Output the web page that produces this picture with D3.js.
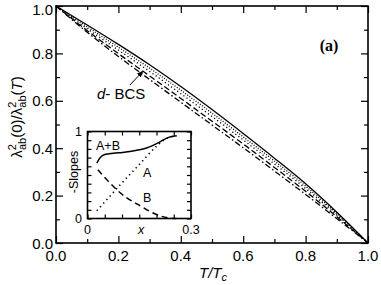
<!DOCTYPE html>
<html>
<head>
<meta charset="utf-8">
<script src="https://cdn.jsdelivr.net/npm/d3@7"></script>
<style>
body { margin: 0; background: #fff; }
svg { display: block; font-family: "Liberation Sans", Arial, sans-serif; }
</style>
</head>
<body>
<svg></svg>
<script>
// main panel: superfluid density vs reduced temperature
const tValues = [0, 0.1, 0.2, 0.3, 0.4, 0.5, 0.6, 0.7, 0.8, 0.9, 1.0];
const solidCurve = [1, 0.920, 0.838, 0.752, 0.660, 0.563, 0.462, 0.358, 0.250, 0.130, 0];
const dotCurve1 = [1, 0.912, 0.826, 0.738, 0.645, 0.548, 0.448, 0.346, 0.240, 0.124, 0];
const dotCurve2 = [1, 0.904, 0.814, 0.724, 0.630, 0.534, 0.435, 0.334, 0.230, 0.118, 0];
const dashCurve = [1, 0.896, 0.799, 0.705, 0.610, 0.514, 0.418, 0.319, 0.218, 0.111, 0];
const dashDotCurve = [1, 0.889, 0.787, 0.690, 0.594, 0.498, 0.402, 0.304, 0.205, 0.103, 0];
const xTicks = [0, 0.2, 0.4, 0.6, 0.8, 1.0];
const yTicks = [0, 0.2, 0.4, 0.6, 0.8, 1.0];

// inset: slopes vs doping
const slopeAB = [[0.027, 0.637], [0.037, 0.70], [0.05, 0.735], [0.075, 0.75], [0.1, 0.76], [0.123, 0.77], [0.15, 0.79], [0.171, 0.81], [0.19, 0.84], [0.21, 0.88], [0.233, 0.93], [0.258, 0.95]];
const slopeA = [[0.027, 0.09], [0.05, 0.19], [0.1, 0.41], [0.15, 0.62], [0.2, 0.83], [0.225, 0.91], [0.258, 0.95]];
const slopeB = [[0.03, 0.56], [0.056, 0.446], [0.085, 0.33], [0.114, 0.237], [0.147, 0.16], [0.18, 0.083], [0.214, 0.026], [0.24, 0.004], [0.258, 0]];

const svg = d3.select("svg").attr("width", 381).attr("height", 285);

const x = d3.scaleLinear().domain([0, 1]).range([56, 368]);
const y = d3.scaleLinear().domain([0, 1]).range([243, 6]);

const line = d3.line().x((d, i) => x(tValues[i])).y((d) => y(d)).curve(d3.curveMonotoneX);

const series = [
	{ v: solidCurve, dash: null },
	{ v: dotCurve1, dash: "1,1.6" },
	{ v: dotCurve2, dash: "1.2,2.6" },
	{ v: dashCurve, dash: "6,3" },
	{ v: dashDotCurve, dash: "6,2.5,1.5,2.5" },
];

svg.append("g")
	.selectAll("path")
	.data(series)
	.join("path")
	.attr("d", (d) => line(d.v))
	.attr("fill", "none")
	.attr("stroke", "#000")
	.attr("stroke-width", 1.3)
	.attr("stroke-dasharray", (d) => d.dash);

// ticks on all four sides, pointing in
function frameAxes(sx, sy, major, minor, len, minLen, g) {
	const [x0, x1] = sx.range();
	const [y0, y1] = sy.range();
	const addTicks = (axis, scale, vals, size) =>
		g.append("g")
			.attr("transform", axis.t)
			.call(axis.f(scale).tickValues(vals).tickSize(size).tickFormat(""))
			.call((s) => s.select(".domain").remove());
	const sides = [
		{ f: d3.axisBottom, t: `translate(0,${y0})`, s: sx },
		{ f: d3.axisTop, t: `translate(0,${y1})`, s: sx },
		{ f: d3.axisLeft, t: `translate(${x0},0)`, s: sy },
		{ f: d3.axisRight, t: `translate(${x1},0)`, s: sy },
	];
	sides.forEach((side, k) => {
		addTicks(side, side.s, k < 2 ? major.x : major.y, -len);
		addTicks(side, side.s, k < 2 ? minor.x : minor.y, -minLen);
	});
	g.selectAll(".tick line").attr("stroke-width", 1.2);
}

const mainAxes = svg.append("g");
frameAxes(x, y,
	{ x: xTicks, y: yTicks },
	{ x: [0.1, 0.3, 0.5, 0.7, 0.9], y: [0.1, 0.3, 0.5, 0.7, 0.9] },
	7, 4, mainAxes);

svg.append("rect")
	.attr("x", 56).attr("y", 6).attr("width", 312).attr("height", 237)
	.attr("fill", "none").attr("stroke", "#000").attr("stroke-width", 1.6);

svg.append("g")
	.selectAll("text")
	.data(xTicks)
	.join("text")
	.attr("x", (d) => x(d))
	.attr("y", 261)
	.attr("text-anchor", "middle")
	.attr("font-size", 15)
	.text((d) => d.toFixed(1));

svg.append("g")
	.selectAll("text")
	.data(yTicks)
	.join("text")
	.attr("x", 53)
	.attr("y", (d) => Math.max(y(d) + 5.5, 15))
	.attr("text-anchor", "end")
	.attr("font-size", 15)
	.text((d) => d.toFixed(1));

// axis titles
const xt = svg.append("text").attr("x", 213).attr("y", 278).attr("text-anchor", "middle")
	.attr("font-size", 15).attr("font-style", "italic");
xt.append("tspan").text("T/T");
xt.append("tspan").attr("font-size", 11).attr("dy", 3).text("c");

const yt = svg.append("text")
	.attr("transform", "translate(22,117) rotate(-90)")
	.attr("text-anchor", "middle")
	.attr("font-size", 15);
yt.append("tspan").text("λ");
yt.append("tspan").attr("font-size", 11).attr("dy", -6).text("2");
yt.append("tspan").attr("font-size", 11).attr("dx", -6).attr("dy", 10).text("ab");
yt.append("tspan").attr("dy", -4).text("(0)/λ");
yt.append("tspan").attr("font-size", 11).attr("dy", -6).text("2");
yt.append("tspan").attr("font-size", 11).attr("dx", -6).attr("dy", 10).text("ab");
yt.append("tspan").attr("dy", -4).text("(");
yt.append("tspan").attr("font-style", "italic").text("T");
yt.append("tspan").text(")");

svg.append("text")
	.attr("x", 329).attr("y", 51)
	.attr("text-anchor", "middle")
	.attr("font-family", "'Liberation Serif', 'Times New Roman', serif")
	.attr("font-weight", "bold")
	.attr("font-size", 16)
	.text("(a)");

const lbl = svg.append("text").attr("x", 97).attr("y", 99).attr("font-size", 15);
lbl.append("tspan").attr("font-style", "italic").text("d");
lbl.append("tspan").text("- BCS");

svg.append("defs").append("marker")
	.attr("id", "head")
	.attr("viewBox", "0 0 10 10")
	.attr("refX", 9).attr("refY", 5)
	.attr("markerWidth", 7).attr("markerHeight", 7)
	.attr("orient", "auto")
	.append("path")
	.attr("d", "M0,1 L10,5 L0,9 Z")
	.attr("fill", "#000");

svg.append("line")
	.attr("x1", 130).attr("y1", 85).attr("x2", 143).attr("y2", 71)
	.attr("stroke", "#000").attr("stroke-width", 1)
	.attr("marker-end", "url(#head)");

// inset
const ix = d3.scaleLinear().domain([0, 0.3]).range([87.5, 191]);
const iy = d3.scaleLinear().domain([0, 1]).range([218.5, 131.5]);
const inset = svg.append("g");

inset.append("rect")
	.attr("x", 87.5).attr("y", 131.5).attr("width", 103.5).attr("height", 87)
	.attr("fill", "#fff");

const iline = d3.line().x((d) => ix(d[0])).y((d) => iy(d[1])).curve(d3.curveMonotoneX);

inset.append("path").attr("d", iline(slopeAB)).attr("fill", "none")
	.attr("stroke", "#000").attr("stroke-width", 1.5);
inset.append("path").attr("d", iline(slopeA)).attr("fill", "none")
	.attr("stroke", "#000").attr("stroke-width", 1.6).attr("stroke-dasharray", "1.3,3.5");
inset.append("path").attr("d", iline(slopeB)).attr("fill", "none")
	.attr("stroke", "#000").attr("stroke-width", 1.5).attr("stroke-dasharray", "6,4");

const insetAxes = inset.append("g");
frameAxes(ix, iy,
	{ x: [0, 0.05, 0.1, 0.15, 0.2, 0.25, 0.3], y: [0, 0.1, 0.2, 0.3, 0.4, 0.5, 0.6, 0.7, 0.8, 0.9, 1] },
	{ x: [], y: [] },
	4, 0, insetAxes);

inset.append("rect")
	.attr("x", 87.5).attr("y", 131.5).attr("width", 103.5).attr("height", 87)
	.attr("fill", "none").attr("stroke", "#000").attr("stroke-width", 1.6);

inset.selectAll("text.xl")
	.data([0, 0.3])
	.join("text")
	.attr("x", (d) => ix(d)).attr("y", 234)
	.attr("text-anchor", "middle").attr("font-size", 12.5)
	.text((d) => d);
inset.selectAll("text.yl")
	.data([0, 1])
	.join("text")
	.attr("x", 82).attr("y", (d) => iy(d) + 4)
	.attr("text-anchor", "end").attr("font-size", 12.5)
	.text((d) => d);

inset.append("text").attr("x", 141).attr("y", 234).attr("text-anchor", "middle")
	.attr("font-size", 12.5).attr("font-style", "italic").text("x");
inset.append("text").attr("transform", "translate(78,172) rotate(-90)")
	.attr("text-anchor", "middle").attr("font-size", 12.5).text("-Slopes");
inset.append("text").attr("x", 96).attr("y", 150).attr("font-size", 12.5).text("A+B");
inset.append("text").attr("x", 143).attr("y", 177).attr("font-size", 12.5).text("A");
inset.append("text").attr("x", 143).attr("y", 202).attr("font-size", 12.5).text("B");
</script>
</body>
</html>
